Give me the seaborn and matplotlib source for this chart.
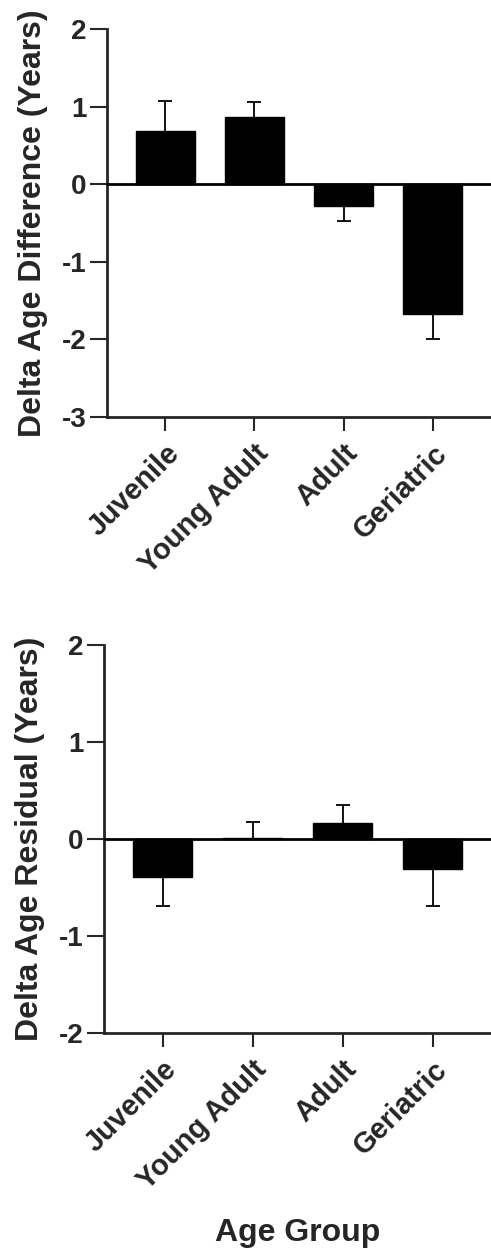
import matplotlib
matplotlib.use("Agg")
import matplotlib.pyplot as plt
import matplotlib.transforms as mtransforms
import seaborn as sns
import numpy as np
import pandas as pd

categories = ["Juvenile", "Young Adult", "Adult", "Geriatric"]
diff_values = [0.68, 0.86, -0.275, -1.67]
diff_errors = [0.39, 0.20, 0.195, 0.33]
resid_values = [-0.39, 0.01, 0.17, -0.31]
resid_errors = [0.30, 0.17, 0.18, 0.38]

sns.set_theme(style="ticks")
plt.rcParams["font.family"] = ["Liberation Sans", "DejaVu Sans"]
plt.rcParams["font.weight"] = "bold"

fig = plt.figure(figsize=(4.91, 12.5), dpi=100)
ax1 = fig.add_axes([0.218, 0.6664, 0.782, 0.3104])
ax2 = fig.add_axes([0.212, 0.1736, 0.788, 0.3104])

def draw(ax, vals, errs, ylim, ylabel, xlabel=None):
    df = pd.DataFrame({"group": categories, "value": vals})
    sns.barplot(data=df, x="group", y="value", color="black", width=0.66,
                errorbar=None, ax=ax, saturation=1, edgecolor="black", linewidth=1.0)
    for p in ax.patches:
        p.set_zorder(2)
    vals_a = np.asarray(vals)
    errs_a = np.asarray(errs)
    neg = vals_a < 0
    lower = np.where(neg, errs_a, 0)
    upper = np.where(~neg, errs_a, 0)
    x = np.arange(len(vals))
    _, caps, _ = ax.errorbar(x, vals_a, yerr=[lower, upper], fmt="none",
                             ecolor="black", elinewidth=1.3, capsize=4.7,
                             capthick=1.3, zorder=1)
    # keep only the cap at the tip of each one-sided error bar
    caps[0].set_data(x[neg], (vals_a - lower)[neg])
    caps[1].set_data(x[~neg], (vals_a + upper)[~neg])
    ax.axhline(0, color="black", lw=2.0, zorder=3, clip_on=False)
    ax.set_ylim(*ylim)
    ax.set_xlim(-0.65, 3.65)
    ax.set_yticks(range(ylim[0], ylim[1] + 1))
    ax.set_yticklabels([str(t) for t in range(ylim[0], ylim[1] + 1)],
                       fontsize=20, fontweight="bold")
    ax.set_xticks(range(len(categories)))
    ax.set_xticklabels(categories, rotation=45, ha="right", rotation_mode="anchor",
                       fontsize=21, fontweight="bold")
    offset = mtransforms.ScaledTranslation(-0.05, 0, fig.dpi_scale_trans)
    for lab in ax.get_xticklabels():
        lab.set_transform(lab.get_transform() + offset)
    ax.tick_params(axis="y", length=12, width=1.5, pad=3)
    ax.tick_params(axis="x", length=10, width=1.5, pad=6)
    for s in ["top", "right"]:
        ax.spines[s].set_visible(False)
    for s in ["left", "bottom"]:
        ax.spines[s].set_linewidth(2.0)
    ax.set_ylabel(ylabel, fontsize=23, fontweight="bold", labelpad=10)
    if xlabel:
        ax.set_xlabel(xlabel, fontsize=23, fontweight="bold")
        ax.xaxis.set_label_coords(0.5, -0.478)
    else:
        ax.set_xlabel("")

draw(ax1, diff_values, diff_errors, (-3, 2), "Delta Age Difference (Years)")
draw(ax2, resid_values, resid_errors, (-2, 2), "Delta Age Residual (Years)", "Age Group")

fig.savefig("out.png", dpi=100)
